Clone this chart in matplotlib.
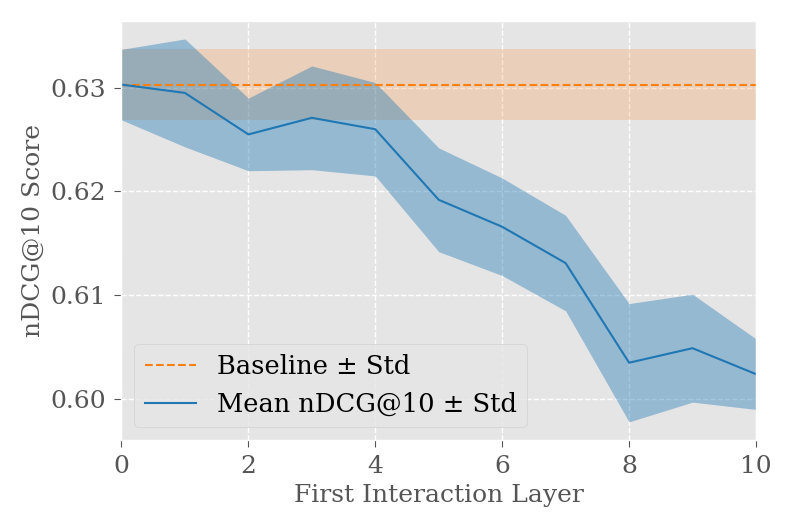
import numpy as np
import matplotlib
matplotlib.use("Agg")
import matplotlib.pyplot as plt
from matplotlib.ticker import FormatStrFormatter

plt.style.use("ggplot")
plt.rcParams['font.family'] = ['DejaVu Serif']

# first interaction layer vs nDCG@10
layers = [0, 1, 2, 3, 4, 5, 6, 7, 8, 9, 10]
mean_ndcg = [0.6303, 0.6295, 0.6255, 0.6271, 0.6260, 0.6192, 0.6166, 0.6131, 0.6035, 0.6049, 0.6024]
std_ndcg = [0.0034, 0.0052, 0.0035, 0.0050, 0.0045, 0.0050, 0.0047, 0.0046, 0.0057, 0.0052, 0.0034]

baseline_mean = 0.6303
baseline_std = 0.0034

yticks = [0.60, 0.61, 0.62, 0.63]

mean_ndcg = np.array(mean_ndcg)
std_ndcg = np.array(std_ndcg)

fig = plt.figure(figsize=(7.93, 5.29), dpi=100)
ax = fig.add_axes([0.1532, 0.1682, 0.8001, 0.7921])

ax.axhline(baseline_mean, color="#ff7f0e", linestyle="--", linewidth=1.5, label="Baseline ± Std")
ax.fill_between([layers[0], layers[-1]], baseline_mean - baseline_std, baseline_mean + baseline_std,
                color="#ff7f0e", alpha=0.2, linewidth=0)

ax.plot(layers, mean_ndcg, color="#1f77b4", linewidth=1.5, label="Mean nDCG@10 ± Std")
ax.fill_between(layers, mean_ndcg - std_ndcg, mean_ndcg + std_ndcg, color="#1f77b4", alpha=0.4, linewidth=0)

ax.set_xlim(0, 10)
ax.set_ylim(0.59605, 0.63643)
ax.set_yticks(yticks)
ax.yaxis.set_major_formatter(FormatStrFormatter('%.2f'))
ax.grid(True, color="white", linestyle="--", linewidth=1)

ax.tick_params(labelsize=18, colors="#555555", length=5, pad=6)
ax.set_xlabel("First Interaction Layer", fontsize=18, color="#555555")
ax.set_ylabel("nDCG@10 Score", fontsize=18, color="#555555")

ax.legend(loc="lower left", fontsize=18.5, facecolor="#E5E5E5", edgecolor="#cccccc", framealpha=0.8)

fig.savefig("out.png", dpi=100)
